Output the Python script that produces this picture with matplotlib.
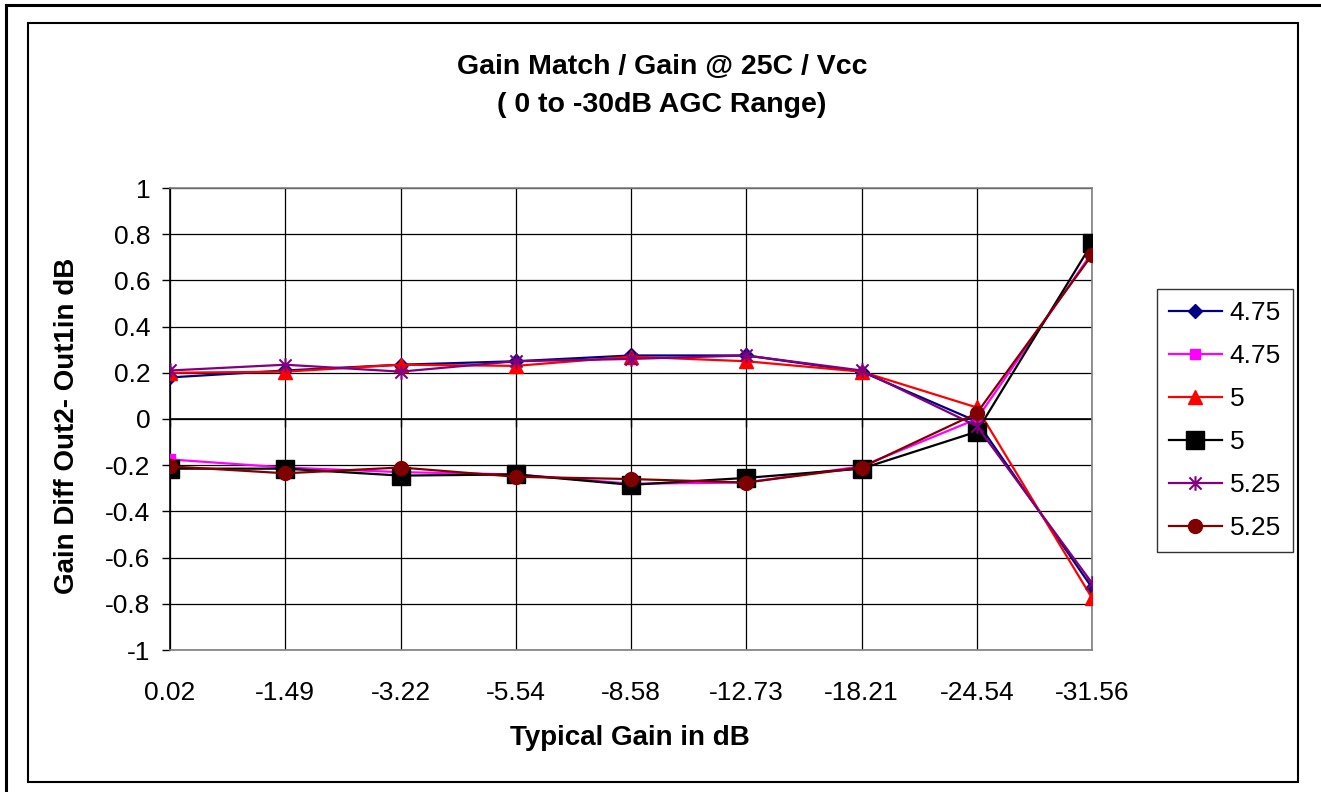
import matplotlib
matplotlib.use("Agg")
import matplotlib.pyplot as plt
from matplotlib.path import Path
from matplotlib.lines import Line2D
from matplotlib.patches import Rectangle
import numpy as np

plt.rcParams['font.family'] = ['Liberation Sans', 'DejaVu Sans']

categories = ["0.02", "-1.49", "-3.22", "-5.54", "-8.58", "-12.73", "-18.21", "-24.54", "-31.56"]
s1_475 = [0.18, 0.21, 0.235, 0.25, 0.275, 0.275, 0.205, -0.01, -0.73]
s2_475 = [-0.175, -0.21, -0.23, -0.24, -0.28, -0.275, -0.205, 0.0, 0.72]
s3_5 = [0.20, 0.205, 0.235, 0.23, 0.27, 0.25, 0.205, 0.05, -0.775]
s4_5 = [-0.215, -0.215, -0.245, -0.24, -0.285, -0.255, -0.215, -0.055, 0.76]
s5_525 = [0.21, 0.235, 0.205, 0.25, 0.26, 0.275, 0.21, -0.03, -0.71]
s6_525 = [-0.205, -0.235, -0.21, -0.25, -0.26, -0.275, -0.21, 0.025, 0.71]
labels = ["4.75", "4.75", "5", "5", "5.25", "5.25"]
y_ticks = [1, 0.8, 0.6, 0.4, 0.2, 0, -0.2, -0.4, -0.6, -0.8, -1]
y_ticklabels = ["1", "0.8", "0.6", "0.4", "0.2", "0", "-0.2", "-0.4", "-0.6", "-0.8", "-1"]

W, H = 1321, 792
fig = plt.figure(figsize=(W / 100, H / 100), dpi=100)
fig.patch.set_facecolor("white")

# frames
fig.add_artist(Line2D([6 / W, 6 / W], [0, 1 - 5 / H], transform=fig.transFigure, color="black", lw=2.2))
fig.add_artist(Line2D([6 / W, 1], [1 - 5 / H, 1 - 5 / H], transform=fig.transFigure, color="black", lw=2.2))
fig.add_artist(Rectangle((28 / W, 1 - 782 / H), (1298 - 28) / W, (782 - 23) / H,
                         transform=fig.transFigure, fill=False, edgecolor="black", lw=1.5))

ax = fig.add_axes([170 / W, 1 - 650 / H, 922 / W, 462 / H])
x = np.arange(len(categories))

asterisk = Path([(-1, -1), (1, 1), (-1, 1), (1, -1), (0, -1.2), (0, 1.2)],
                [Path.MOVETO, Path.LINETO, Path.MOVETO, Path.LINETO, Path.MOVETO, Path.LINETO])

styles = [
    dict(color="#000080", marker="D", markersize=7.5),
    dict(color="#FF00FF", marker="s", markersize=7),
    dict(color="#FF0000", marker="^", markersize=9.5),
    dict(color="#000000", marker="s", markersize=13),
    dict(color="#800080", marker=asterisk, markersize=10.5, markeredgewidth=1.5, markerfacecolor="none"),
    dict(color="#800000", marker="o", markersize=10),
]
series = [s1_475, s2_475, s3_5, s4_5, s5_525, s6_525]
for vals, lab, st in zip(series, labels, styles):
    ax.plot(x, vals, lw=1.6, label=lab, zorder=3, **st)

ax.set_xlim(0, len(categories) - 1)
ax.set_ylim(-1, 1)
ax.set_yticks(y_ticks)
ax.set_yticklabels(y_ticklabels)
ax.set_xticks(x)
ax.set_xticklabels(categories)
ax.tick_params(axis="x", length=0, pad=22, labelsize=19)
ax.tick_params(axis="y", length=6, width=1, pad=8, labelsize=19, direction="out")
ax.grid(True, color="black", lw=0.9)
ax.set_axisbelow(True)
for side in ["top", "right", "bottom"]:
    ax.spines[side].set_color("#808080")
    ax.spines[side].set_linewidth(1.2)
ax.spines["left"].set_color("black")
ax.spines["left"].set_linewidth(1.2)
ax.axhline(0, color="black", lw=1.2, zorder=2)
ax.vlines(x, -0.035, 0, color="black", lw=1.0, zorder=2)

fig.text(662 / W, 1 - 67 / H, "Gain Match / Gain @ 25C / Vcc", ha="center", va="center",
         fontsize=20.5, fontweight="bold")
fig.text(662 / W, 1 - 105 / H, "( 0 to -30dB AGC Range)", ha="center", va="center",
         fontsize=20.5, fontweight="bold")
fig.text(67 / W, 1 - 426 / H, "Gain Diff Out2- Out1in dB", ha="center", va="center",
         rotation=90, fontsize=20, fontweight="bold")
fig.text(630 / W, 1 - 738 / H, "Typical Gain in dB", ha="center", va="center",
         fontsize=20, fontweight="bold")

leg = ax.legend(loc="upper left", bbox_to_anchor=(1157 / W, 1 - 289 / H),
                bbox_transform=fig.transFigure, fontsize=19, frameon=True, fancybox=False,
                edgecolor="black", handlelength=2.0, labelspacing=0.72, borderpad=0.45,
                handletextpad=0.3, borderaxespad=0)
leg.get_frame().set_linewidth(1.0)

fig.savefig("out.png", dpi=100)
